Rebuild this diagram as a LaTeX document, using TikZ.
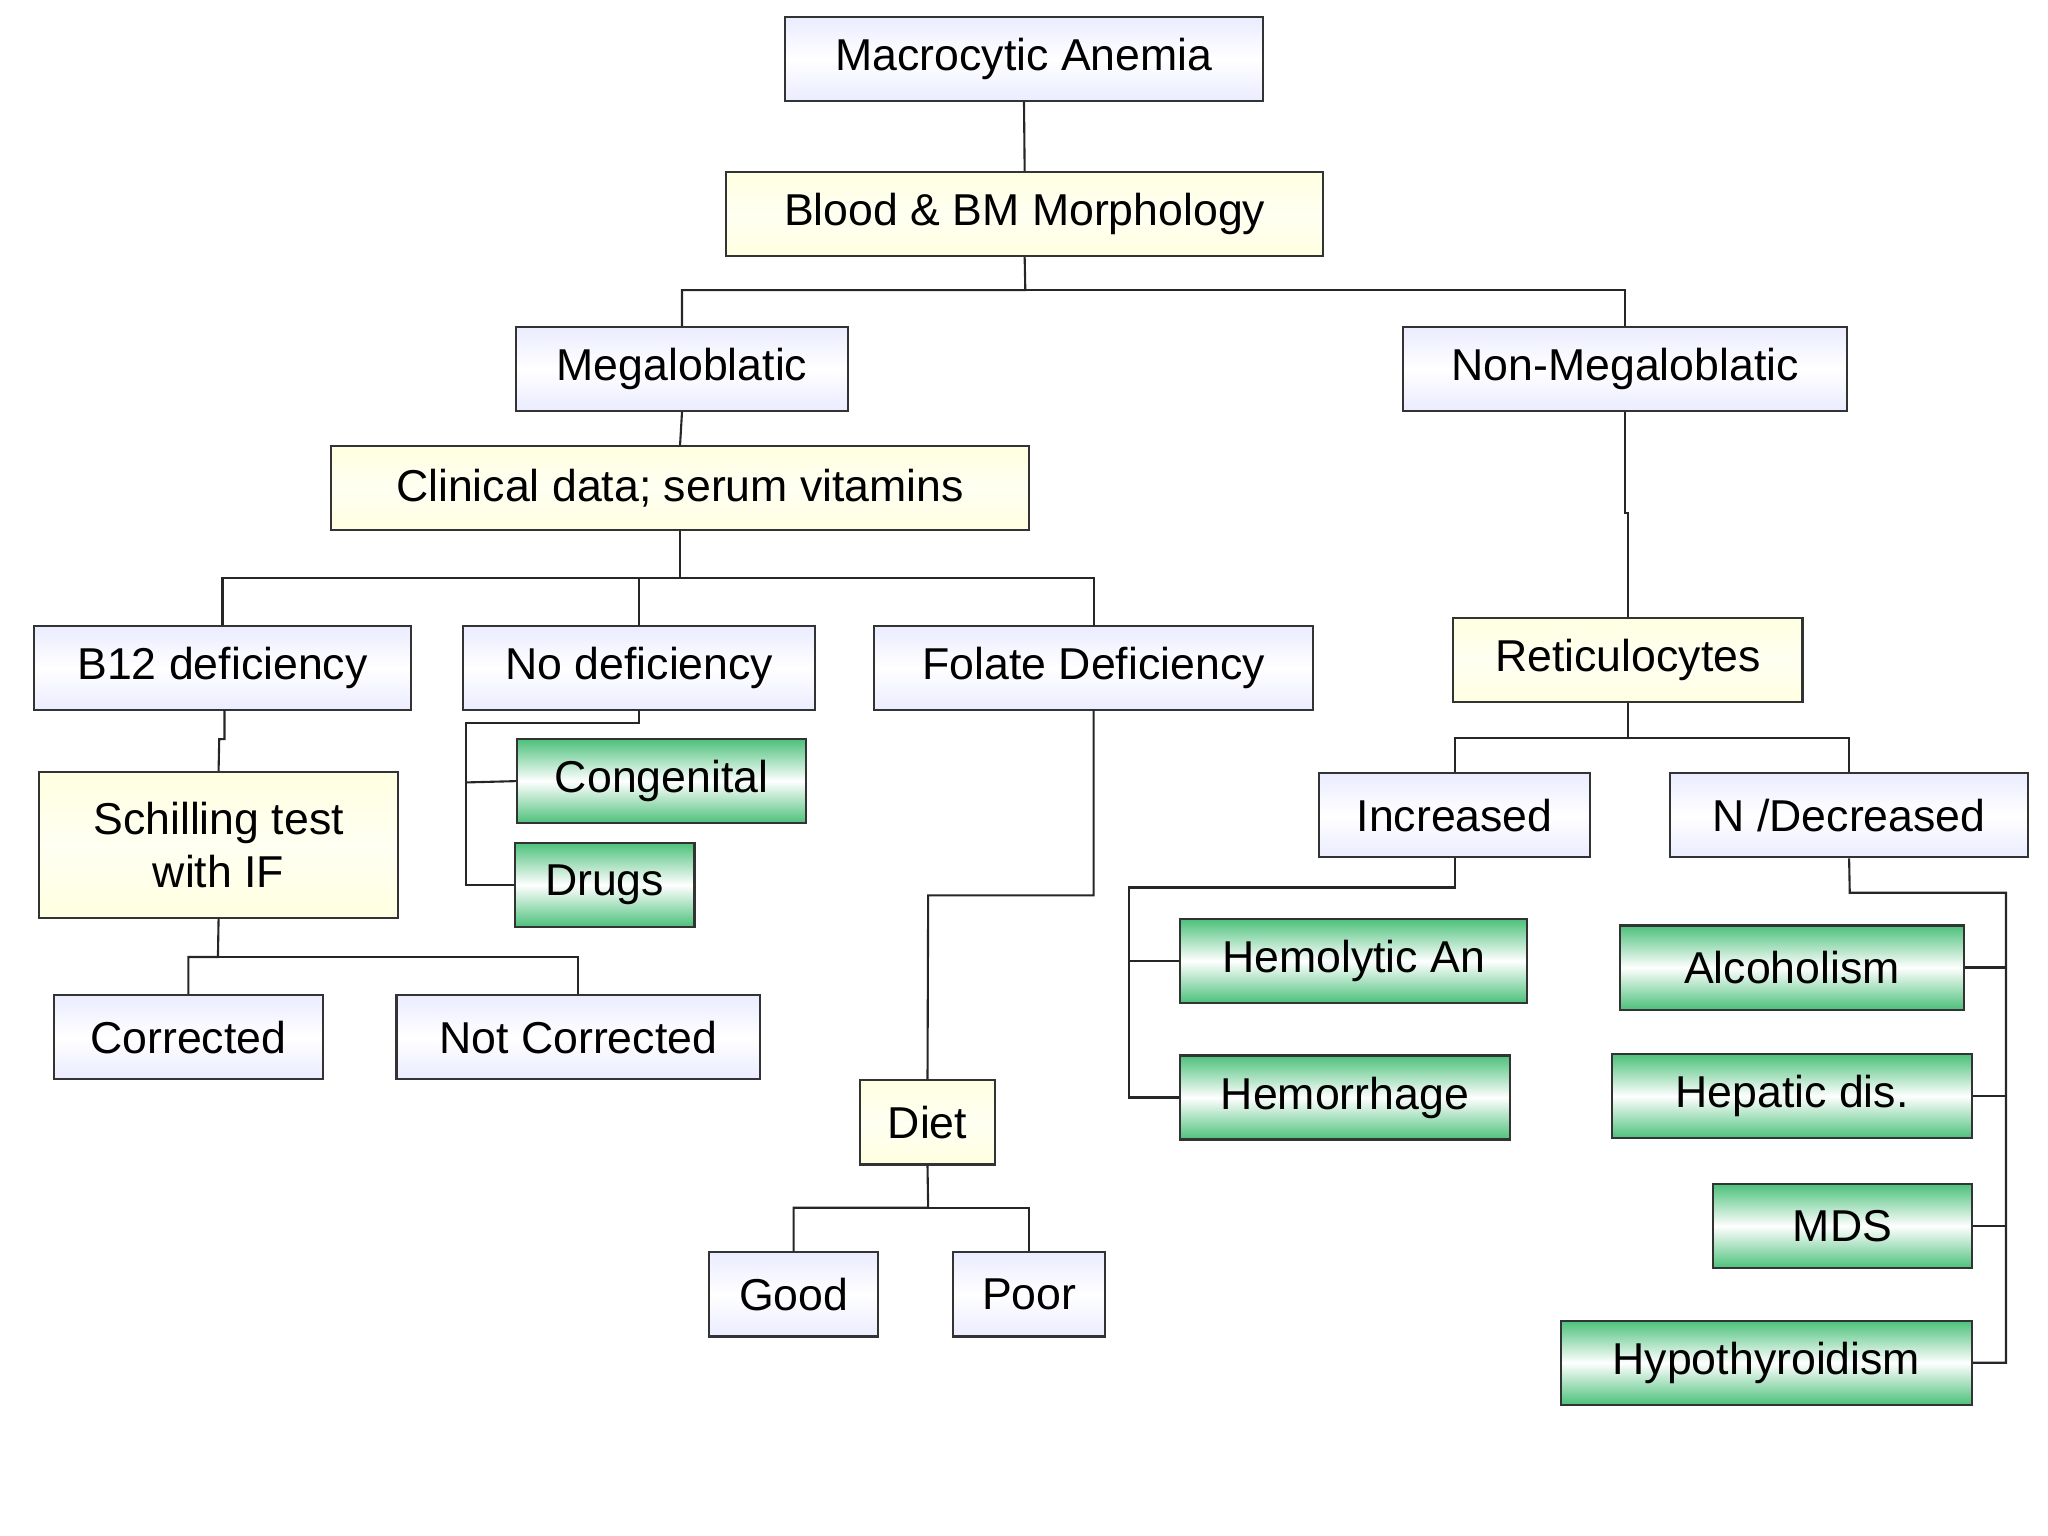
\documentclass[tikz,border=0pt]{standalone}
\usepackage{fontspec}
\setmainfont{Liberation Sans}
\begin{document}
\begin{tikzpicture}[x=0.5pt,y=-0.5pt,
 bx/.style={draw=black!80,line width=0.8pt,inner sep=0pt,font=\fontsize{17pt}{20pt}\selectfont,align=center},
 blu/.style={bx,top color=cyan!5!blue!8!white,bottom color=cyan!5!blue!8!white,middle color=white,shading angle=0},
 yel/.style={bx,top color=yellow!12,bottom color=yellow!12,middle color=yellow!5},
 grn/.style={bx,top color=green!60!cyan!65!black!70!white,bottom color=green!60!cyan!65!black!70!white,middle color=white},
 ln/.style={draw=black!85,line width=0.8pt}]
\useasboundingbox (0,0) rectangle (1560,1170);
\newcommand{\bxnode}[7]{\node[#1,minimum width={(#5-#3)*0.5pt},minimum height={(#6-#4)*0.5pt}] (#2) at ({(#3+#5)/2},{(#4+#6)/2}) {#7};}
\bxnode{blu}{mac}{598}{13}{962}{77}{Macrocytic Anemia}
\bxnode{yel}{blood}{553}{131}{1008}{195}{Blood \& BM Morphology}
\bxnode{blu}{mega}{393}{249}{646}{313}{Megaloblatic}
\bxnode{blu}{non}{1069}{249}{1407}{313}{Non-Megaloblatic}
\bxnode{yel}{clin}{252}{340}{784}{404}{Clinical data; serum vitamins}
\bxnode{blu}{b12}{26}{477}{313}{541}{B12 deficiency}
\bxnode{blu}{nodef}{353}{477}{621}{541}{No deficiency}
\bxnode{blu}{fol}{666}{477}{1000}{541}{Folate Deficiency}
\bxnode{yel}{ret}{1107}{471}{1373}{535}{Reticulocytes}
\bxnode{grn}{cong}{394}{563}{614}{627}{Congenital}
\bxnode{grn}{drugs}{392}{642}{529}{706}{Drugs}
\bxnode{yel}{sch}{30}{588}{303}{699}{Schilling test\\with IF}
\bxnode{blu}{corr}{41}{758}{246}{822}{Corrected}
\bxnode{blu}{ncorr}{302}{758}{579}{822}{Not Corrected}
\bxnode{blu}{inc}{1005}{589}{1211}{653}{Increased}
\bxnode{blu}{ndec}{1272}{589}{1545}{653}{N /Decreased}
\bxnode{grn}{hemo}{899}{700}{1163}{764}{Hemolytic An}
\bxnode{grn}{hemr}{899}{804}{1150}{868}{Hemorrhage}
\bxnode{grn}{alc}{1234}{705}{1496}{769}{Alcoholism}
\bxnode{grn}{hep}{1228}{803}{1502}{867}{Hepatic dis.}
\bxnode{grn}{mds}{1305}{902}{1502}{966}{MDS}
\bxnode{grn}{hypo}{1189}{1006}{1502}{1070}{Hypothyroidism}
\bxnode{yel}{diet}{655}{823}{758}{887}{Diet}
\bxnode{blu}{good}{540}{954}{669}{1018}{Good}
\bxnode{blu}{poor}{726}{954}{842}{1018}{Poor}
\draw[ln] (mac.south) -- (blood.north);
\draw[ln] (blood.south) -- (781,221) -| (mega.north);
\draw[ln] (781,221) -| (non.north);
\draw[ln] (mega.south) -- (clin.north);
\draw[ln] (clin.south) -- (518,440) -| (b12.north);
\draw[ln] (518,440) -| (833,477);
\draw[ln] (487,440) -- (487,477);
\draw[ln] (171,541) -- (171,563) -- (167,563) -- (sch.north);
\draw[ln] (487,541) -- (487,551) -- (355,551) |- (drugs.west);
\draw[ln] (355,596) -- (cong.west);
\draw[ln] (833,541) -- (833,682) -- (707,682) -- (diet.north);
\draw[ln] (diet.south) -- (707,920) -| (good.north);
\draw[ln] (707,920) -| (poor.north);
\draw[ln] (sch.south) -- (166,729) -| (corr.north);
\draw[ln] (166,729) -| (ncorr.north);
\draw[ln] (non.south) -- (1238,391) -- (1240,391) -- (ret.north);
\draw[ln] (ret.south) -- (1240,562) -| (inc.north);
\draw[ln] (1240,562) -| (ndec.north);
\draw[ln] (inc.south) -- (1108,676) -- (860,676) |- (hemr.west);
\draw[ln] (860,732) -- (hemo.west);
\draw[ln] (ndec.south) -- (1409,680) -- (1528,680) |- (hypo.east);
\draw[ln] (1528,737) -- (alc.east);
\draw[ln] (1528,835) -- (hep.east);
\draw[ln] (1528,934) -- (mds.east);
\end{tikzpicture}
\end{document}
